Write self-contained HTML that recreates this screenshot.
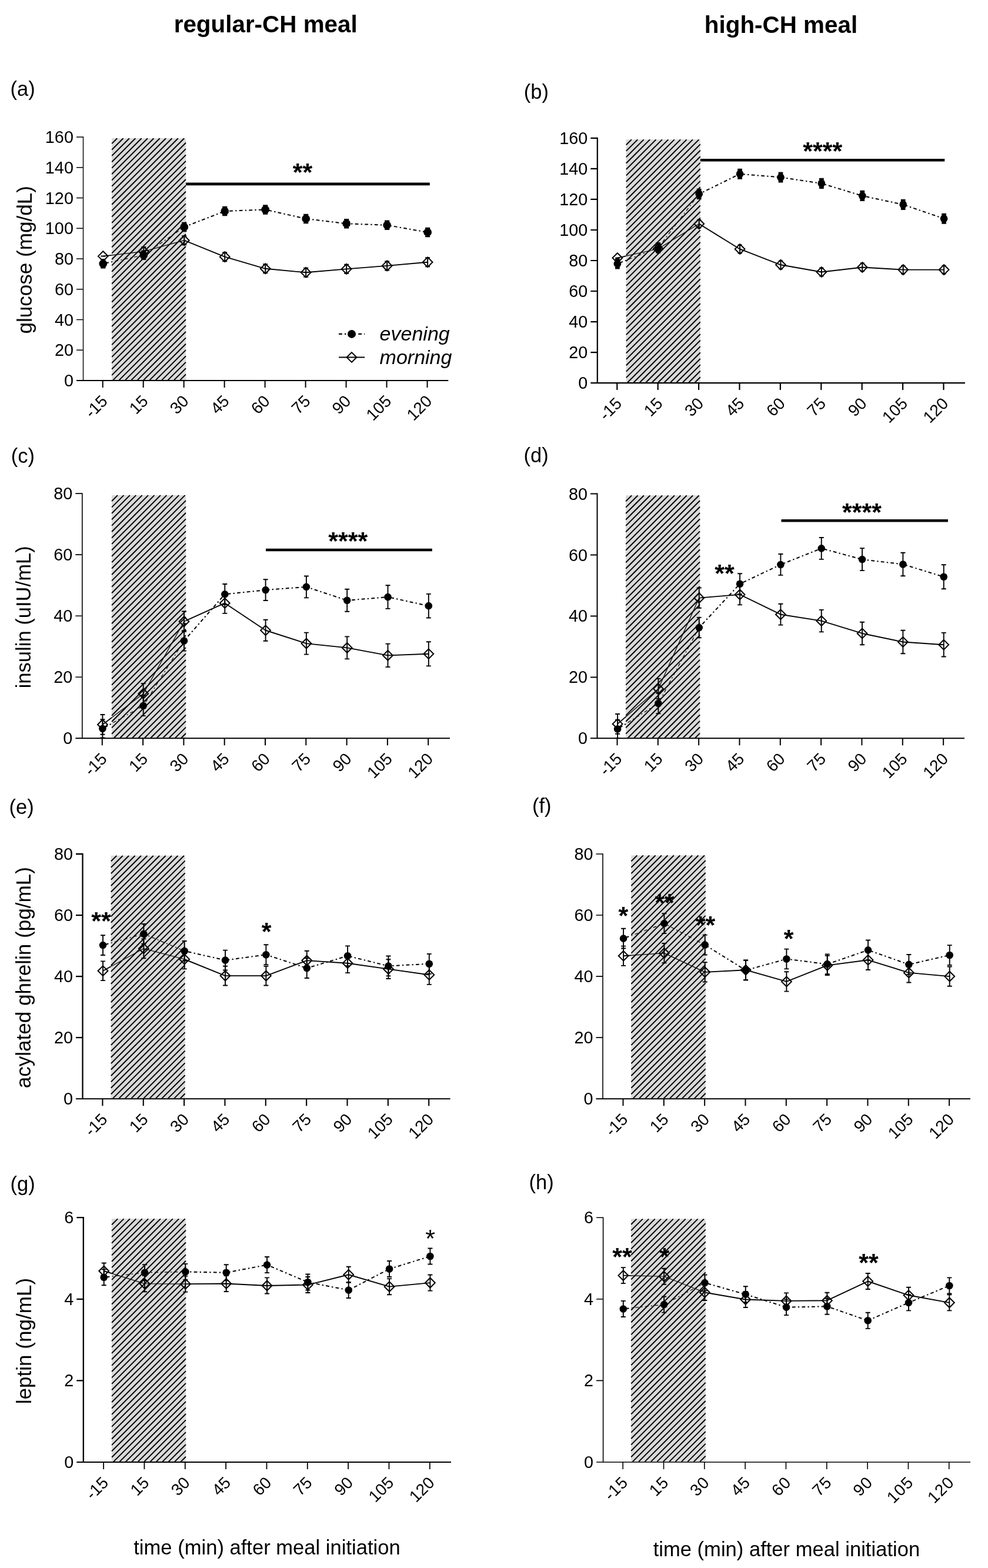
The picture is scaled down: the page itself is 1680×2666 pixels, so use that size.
<!DOCTYPE html>
<html lang="en"><head><meta charset="utf-8"><title>Postprandial responses: regular-CH vs high-CH meal</title>
<style>html,body{margin:0;padding:0;background:#fff}body{width:1680px;height:2666px;overflow:hidden}svg{display:block}text{font-family:'Liberation Sans', Arial, Helvetica, sans-serif;fill:#000}</style>
</head><body>
<svg xmlns="http://www.w3.org/2000/svg" width="1680" height="2666" viewBox="0 0 1680 2666">
<rect width="1680" height="2666" fill="#fff"/>
<text x="451.7" y="55.4" text-anchor="middle" font-size="40.4" font-weight="bold">regular-CH meal</text>
<text x="1328" y="56.2" text-anchor="middle" font-size="40.4" font-weight="bold">high-CH meal</text>
<g id="panel-a">
<text x="17.6" y="162.6" font-size="34.5">(a)</text>
<text transform="translate(53.8 441.8) rotate(-90)" text-anchor="middle" font-size="35.1">glucose (mg/dL)</text>
<rect x="190" y="235" width="126.2" height="411.4" fill="#dadada"/>
<line x1="316.2" y1="312.85" x2="730.8" y2="312.85" stroke="#000" stroke-width="4.6"/>
<text x="514.6" y="306.6" text-anchor="middle" font-size="43" font-weight="bold">**</text>
<clipPath id="in-a"><rect x="190" y="235" width="126.2" height="411.4"/></clipPath>
<clipPath id="out-a"><path clip-rule="evenodd" d="M0 0H1680V2666H0ZM190 235H316.2V646.4H190Z"/></clipPath>
<g clip-path="url(#out-a)">
<polyline points="175.3,435.6 244.28,427.58 313.26,408.69 382.24,436.64 451.22,456.82 520.2,463.29 589.18,457.34 658.16,451.9 727.14,445.69" fill="none" stroke="#000" stroke-width="1.9" stroke-linejoin="round"/>
<polyline points="175.3,448.28 244.28,433.79 313.26,385.92 382.24,359.01 451.22,356.42 520.2,371.95 589.18,380.23 658.16,382.82 727.14,394.98" fill="none" stroke="#000" stroke-width="2.0" stroke-dasharray="5.8 4.2 2.4 4.2" stroke-dashoffset="-4"/>
</g>
<g clip-path="url(#in-a)">
<polyline points="175.3,435.6 244.28,427.58 313.26,408.69 382.24,436.64 451.22,456.82 520.2,463.29 589.18,457.34 658.16,451.9 727.14,445.69" fill="none" stroke="#000" stroke-width="1.2" stroke-linejoin="round"/>
<polyline points="175.3,448.28 244.28,433.79 313.26,385.92 382.24,359.01 451.22,356.42 520.2,371.95 589.18,380.23 658.16,382.82 727.14,394.98" fill="none" stroke="#000" stroke-width="1.2" stroke-dasharray="5.8 4.2 2.4 4.2" stroke-dashoffset="-4"/>
</g>
<path d="M166.9 435.6L175.3 427.2L183.7 435.6L175.3 444ZM235.88 427.58L244.28 419.18L252.68 427.58L244.28 435.98ZM304.86 408.69L313.26 400.29L321.66 408.69L313.26 417.09ZM373.84 436.64L382.24 428.24L390.64 436.64L382.24 445.04ZM442.82 456.82L451.22 448.42L459.62 456.82L451.22 465.22ZM511.8 463.29L520.2 454.89L528.6 463.29L520.2 471.69ZM580.78 457.34L589.18 448.94L597.58 457.34L589.18 465.74ZM649.76 451.9L658.16 443.5L666.56 451.9L658.16 460.3ZM718.74 445.69L727.14 437.29L735.54 445.69L727.14 454.09Z" fill="none" stroke="#000" stroke-width="2" stroke-linejoin="miter"/>
<path d="M175.3 435.6V435.6M171.3 435.6H179.3M171.3 435.6H179.3M244.28 420.08V435.08M240.28 420.08H248.28M240.28 435.08H248.28M313.26 401.19V416.2M309.26 401.19H317.26M309.26 416.2H317.26M382.24 429.13V444.14M378.24 429.13H386.24M378.24 444.14H386.24M451.22 449.31V464.32M447.22 449.31H455.22M447.22 464.32H455.22M520.2 455.78V470.79M516.2 455.78H524.2M516.2 470.79H524.2M589.18 449.83V464.84M585.18 449.83H593.18M585.18 464.84H593.18M658.16 444.4V459.41M654.16 444.4H662.16M654.16 459.41H662.16M727.14 438.19V453.2M723.14 438.19H731.14M723.14 453.2H731.14" fill="none" stroke="#000" stroke-width="2.0"/>
<path d="M175.3 441.29V455.27M171.2 441.29H179.4M171.2 455.27H179.4M244.28 426.8V440.78M240.18 426.8H248.38M240.18 440.78H248.38M313.26 378.94V392.91M309.16 378.94H317.36M309.16 392.91H317.36M382.24 352.03V366M378.14 352.03H386.34M378.14 366H386.34M451.22 349.44V363.41M447.12 349.44H455.32M447.12 363.41H455.32M520.2 364.96V378.94M516.1 364.96H524.3M516.1 378.94H524.3M589.18 373.24V387.22M585.08 373.24H593.28M585.08 387.22H593.28M658.16 375.83V389.8M654.06 375.83H662.26M654.06 389.8H662.26M727.14 387.99V401.96M723.04 387.99H731.24M723.04 401.96H731.24" fill="none" stroke="#000" stroke-width="2.6"/>
<circle cx="175.3" cy="448.28" r="6.9" fill="#000"/>
<circle cx="244.28" cy="433.79" r="6.9" fill="#000"/>
<circle cx="313.26" cy="385.92" r="6.9" fill="#000"/>
<circle cx="382.24" cy="359.01" r="6.9" fill="#000"/>
<circle cx="451.22" cy="356.42" r="6.9" fill="#000"/>
<circle cx="520.2" cy="371.95" r="6.9" fill="#000"/>
<circle cx="589.18" cy="380.23" r="6.9" fill="#000"/>
<circle cx="658.16" cy="382.82" r="6.9" fill="#000"/>
<circle cx="727.14" cy="394.98" r="6.9" fill="#000"/>
<rect x="190" y="235" width="126.2" height="411.4" fill="#000" fill-opacity="0.0"/>
<path d="M190.75 243.65L198.65 235.75M190.75 254.01L209.01 235.75M190.75 264.37L219.37 235.75M190.75 274.74L229.74 235.75M190.75 285.1L240.1 235.75M190.75 295.46L250.46 235.75M190.75 305.82L260.82 235.75M190.75 316.18L271.18 235.75M190.75 326.55L281.55 235.75M190.75 336.91L291.91 235.75M190.75 347.27L302.27 235.75M190.75 357.63L312.63 235.75M190.75 367.99L315.45 243.29M190.75 378.36L315.45 253.66M190.75 388.72L315.45 264.02M190.75 399.08L315.45 274.38M190.75 409.44L315.45 284.74M190.75 419.8L315.45 295.1M190.75 430.17L315.45 305.47M190.75 440.53L315.45 315.83M190.75 450.89L315.45 326.19M190.75 461.25L315.45 336.55M190.75 471.61L315.45 346.91M190.75 481.98L315.45 357.28M190.75 492.34L315.45 367.64M190.75 502.7L315.45 378M190.75 513.06L315.45 388.36M190.75 523.42L315.45 398.72M190.75 533.79L315.45 409.09M190.75 544.15L315.45 419.45M190.75 554.51L315.45 429.81M190.75 564.87L315.45 440.17M190.75 575.23L315.45 450.53M190.75 585.6L315.45 460.9M190.75 595.96L315.45 471.26M190.75 606.32L315.45 481.62M190.75 616.68L315.45 491.98M190.75 627.04L315.45 502.34M190.75 637.41L315.45 512.71M192.87 645.65L315.45 523.07M203.23 645.65L315.45 533.43M213.59 645.65L315.45 543.79M223.95 645.65L315.45 554.15M234.32 645.65L315.45 564.52M244.68 645.65L315.45 574.88M255.04 645.65L315.45 585.24M265.4 645.65L315.45 595.6M275.76 645.65L315.45 605.96M286.13 645.65L315.45 616.33M296.49 645.65L315.45 626.69M306.85 645.65L315.45 637.05" fill="none" stroke="#000" stroke-width="1.95" stroke-linecap="round"/>
<path d="M141.5 232.3V647" stroke="#000" stroke-width="1.4" fill="none"/>
<path d="M130 647H762.3" stroke="#000" stroke-width="2.0" fill="none"/>
<path d="M130 595.25H141.5M130 543.5H141.5M130 491.75H141.5M130 440H141.5M130 388.25H141.5M130 336.5H141.5M130 284.75H141.5M130 233H141.5" stroke="#000" stroke-width="1.4" fill="none"/>
<path d="M174.7 647v12.0M243.68 647v12.0M312.66 647v12.0M381.64 647v12.0M450.62 647v12.0M519.6 647v12.0M588.58 647v12.0M657.56 647v12.0M726.54 647v12.0" stroke="#000" stroke-width="2.0" fill="none"/>
<text transform="translate(124.9 657) scale(0.95 1)" text-anchor="end" font-size="30.3">0</text>
<text transform="translate(124.9 605.25) scale(0.95 1)" text-anchor="end" font-size="30.3">20</text>
<text transform="translate(124.9 553.5) scale(0.95 1)" text-anchor="end" font-size="30.3">40</text>
<text transform="translate(124.9 501.75) scale(0.95 1)" text-anchor="end" font-size="30.3">60</text>
<text transform="translate(124.9 450) scale(0.95 1)" text-anchor="end" font-size="30.3">80</text>
<text transform="translate(124.9 398.25) scale(0.95 1)" text-anchor="end" font-size="30.3">100</text>
<text transform="translate(124.9 346.5) scale(0.95 1)" text-anchor="end" font-size="30.3">120</text>
<text transform="translate(124.9 294.75) scale(0.95 1)" text-anchor="end" font-size="30.3">140</text>
<text transform="translate(124.9 243) scale(0.95 1)" text-anchor="end" font-size="30.3">160</text>
<text transform="translate(184.5 683.7) rotate(-45)" text-anchor="end" font-size="28">-15</text>
<text transform="translate(253.48 683.7) rotate(-45)" text-anchor="end" font-size="28">15</text>
<text transform="translate(322.46 683.7) rotate(-45)" text-anchor="end" font-size="28">30</text>
<text transform="translate(391.44 683.7) rotate(-45)" text-anchor="end" font-size="28">45</text>
<text transform="translate(460.42 683.7) rotate(-45)" text-anchor="end" font-size="28">60</text>
<text transform="translate(529.4 683.7) rotate(-45)" text-anchor="end" font-size="28">75</text>
<text transform="translate(598.38 683.7) rotate(-45)" text-anchor="end" font-size="28">90</text>
<text transform="translate(667.36 683.7) rotate(-45)" text-anchor="end" font-size="28">105</text>
<text transform="translate(736.34 683.7) rotate(-45)" text-anchor="end" font-size="28">120</text>
</g>
<g id="panel-b">
<text x="890.8" y="168.2" font-size="34.5">(b)</text>
<rect x="1064.6" y="237.1" width="126.4" height="413.4" fill="#dadada"/>
<line x1="1191" y1="272.2" x2="1606.3" y2="272.2" stroke="#000" stroke-width="4.6"/>
<text x="1398.8" y="271" text-anchor="middle" font-size="43" font-weight="bold">****</text>
<clipPath id="in-b"><rect x="1064.6" y="237.1" width="126.4" height="413.4"/></clipPath>
<clipPath id="out-b"><path clip-rule="evenodd" d="M0 0H1680V2666H0ZM1064.6 237.1H1191V650.5H1064.6Z"/></clipPath>
<g clip-path="url(#out-b)">
<polyline points="1049.9,438.58 1119.3,422.97 1188.7,380.57 1258.1,423.49 1327.5,450.28 1396.9,462.51 1466.3,454.45 1535.7,458.61 1605.1,458.61" fill="none" stroke="#000" stroke-width="1.9" stroke-linejoin="round"/>
<polyline points="1049.9,448.46 1119.3,421.15 1188.7,329.85 1258.1,295.77 1327.5,301.49 1396.9,311.9 1466.3,332.97 1535.7,347.79 1605.1,371.73" fill="none" stroke="#000" stroke-width="2.0" stroke-dasharray="5.8 4.2 2.4 4.2" stroke-dashoffset="-4"/>
</g>
<g clip-path="url(#in-b)">
<polyline points="1049.9,438.58 1119.3,422.97 1188.7,380.57 1258.1,423.49 1327.5,450.28 1396.9,462.51 1466.3,454.45 1535.7,458.61 1605.1,458.61" fill="none" stroke="#000" stroke-width="1.2" stroke-linejoin="round"/>
<polyline points="1049.9,448.46 1119.3,421.15 1188.7,329.85 1258.1,295.77 1327.5,301.49 1396.9,311.9 1466.3,332.97 1535.7,347.79 1605.1,371.73" fill="none" stroke="#000" stroke-width="1.2" stroke-dasharray="5.8 4.2 2.4 4.2" stroke-dashoffset="-4"/>
</g>
<path d="M1041.5 438.58L1049.9 430.18L1058.3 438.58L1049.9 446.98ZM1110.9 422.97L1119.3 414.57L1127.7 422.97L1119.3 431.37ZM1180.3 380.57L1188.7 372.17L1197.1 380.57L1188.7 388.97ZM1249.7 423.49L1258.1 415.09L1266.5 423.49L1258.1 431.89ZM1319.1 450.28L1327.5 441.88L1335.9 450.28L1327.5 458.68ZM1388.5 462.51L1396.9 454.11L1405.3 462.51L1396.9 470.91ZM1457.9 454.45L1466.3 446.05L1474.7 454.45L1466.3 462.85ZM1527.3 458.61L1535.7 450.21L1544.1 458.61L1535.7 467.01ZM1596.7 458.61L1605.1 450.21L1613.5 458.61L1605.1 467.01Z" fill="none" stroke="#000" stroke-width="2" stroke-linejoin="miter"/>
<path d="M1049.9 438.58V438.58M1046.4 438.58H1053.4M1046.4 438.58H1053.4M1119.3 416.08V429.86M1115.8 416.08H1122.8M1115.8 429.86H1122.8M1188.7 373.68V387.46M1185.2 373.68H1192.2M1185.2 387.46H1192.2M1258.1 416.6V430.38M1254.6 416.6H1261.6M1254.6 430.38H1261.6M1327.5 443.39V457.18M1324 443.39H1331M1324 457.18H1331M1396.9 455.62V469.4M1393.4 455.62H1400.4M1393.4 469.4H1400.4M1466.3 447.55V461.34M1462.8 447.55H1469.8M1462.8 461.34H1469.8M1535.7 451.71V465.5M1532.2 451.71H1539.2M1532.2 465.5H1539.2M1605.1 451.71V465.5M1601.6 451.71H1608.6M1601.6 465.5H1608.6" fill="none" stroke="#000" stroke-width="2.0"/>
<path d="M1046.05 439.36h7.7v18.2h-7.7zM1115.45 412.05h7.7v18.2h-7.7zM1184.85 320.75h7.7v18.2h-7.7zM1254.25 286.67h7.7v18.2h-7.7zM1323.65 292.39h7.7v18.2h-7.7zM1393.05 302.8h7.7v18.2h-7.7zM1462.45 323.87h7.7v18.2h-7.7zM1531.85 338.69h7.7v18.2h-7.7zM1601.25 362.63h7.7v18.2h-7.7z" fill="#000"/>
<circle cx="1049.9" cy="448.46" r="6.4" fill="#000"/>
<circle cx="1119.3" cy="421.15" r="6.4" fill="#000"/>
<circle cx="1188.7" cy="329.85" r="6.4" fill="#000"/>
<circle cx="1258.1" cy="295.77" r="6.4" fill="#000"/>
<circle cx="1327.5" cy="301.49" r="6.4" fill="#000"/>
<circle cx="1396.9" cy="311.9" r="6.4" fill="#000"/>
<circle cx="1466.3" cy="332.97" r="6.4" fill="#000"/>
<circle cx="1535.7" cy="347.79" r="6.4" fill="#000"/>
<circle cx="1605.1" cy="371.73" r="6.4" fill="#000"/>
<rect x="1064.6" y="237.1" width="126.4" height="413.4" fill="#000" fill-opacity="0.0"/>
<path d="M1065.35 245.75L1073.25 237.85M1065.35 256.17L1083.67 237.85M1065.35 266.58L1094.08 237.85M1065.35 277L1104.5 237.85M1065.35 287.42L1114.92 237.85M1065.35 297.84L1125.34 237.85M1065.35 308.25L1135.75 237.85M1065.35 318.67L1146.17 237.85M1065.35 329.09L1156.59 237.85M1065.35 339.5L1167 237.85M1065.35 349.92L1177.42 237.85M1065.35 360.34L1187.84 237.85M1065.35 370.75L1190.25 245.85M1065.35 381.17L1190.25 256.27M1065.35 391.59L1190.25 266.69M1065.35 402.01L1190.25 277.11M1065.35 412.42L1190.25 287.52M1065.35 422.84L1190.25 297.94M1065.35 433.26L1190.25 308.36M1065.35 443.67L1190.25 318.77M1065.35 454.09L1190.25 329.19M1065.35 464.51L1190.25 339.61M1065.35 474.93L1190.25 350.03M1065.35 485.34L1190.25 360.44M1065.35 495.76L1190.25 370.86M1065.35 506.18L1190.25 381.28M1065.35 516.59L1190.25 391.69M1065.35 527.01L1190.25 402.11M1065.35 537.43L1190.25 412.53M1065.35 547.84L1190.25 422.94M1065.35 558.26L1190.25 433.36M1065.35 568.68L1190.25 443.78M1065.35 579.1L1190.25 454.2M1065.35 589.51L1190.25 464.61M1065.35 599.93L1190.25 475.03M1065.35 610.35L1190.25 485.45M1065.35 620.76L1190.25 495.86M1065.35 631.18L1190.25 506.28M1065.35 641.6L1190.25 516.7M1067.62 649.75L1190.25 527.12M1078.03 649.75L1190.25 537.53M1088.45 649.75L1190.25 547.95M1098.87 649.75L1190.25 558.37M1109.28 649.75L1190.25 568.78M1119.7 649.75L1190.25 579.2M1130.12 649.75L1190.25 589.62M1140.53 649.75L1190.25 600.03M1150.95 649.75L1190.25 610.45M1161.37 649.75L1190.25 620.87M1171.79 649.75L1190.25 631.29M1182.2 649.75L1190.25 641.7" fill="none" stroke="#000" stroke-width="1.95" stroke-linecap="round"/>
<path d="M1015.8 233.8V651.1" stroke="#000" stroke-width="2.2" fill="none"/>
<path d="M1004.3 651.1H1641" stroke="#000" stroke-width="2.2" fill="none"/>
<path d="M1004.3 599.08H1015.8M1004.3 547.05H1015.8M1004.3 495.02H1015.8M1004.3 443H1015.8M1004.3 390.98H1015.8M1004.3 338.95H1015.8M1004.3 286.92H1015.8M1004.3 234.9H1015.8" stroke="#000" stroke-width="2.2" fill="none"/>
<path d="M1049.3 651.1v12.0M1118.7 651.1v12.0M1188.1 651.1v12.0M1257.5 651.1v12.0M1326.9 651.1v12.0M1396.3 651.1v12.0M1465.7 651.1v12.0M1535.1 651.1v12.0M1604.5 651.1v12.0" stroke="#000" stroke-width="2.2" fill="none"/>
<text transform="translate(999.2 661.1) scale(0.95 1)" text-anchor="end" font-size="30.3">0</text>
<text transform="translate(999.2 609.08) scale(0.95 1)" text-anchor="end" font-size="30.3">20</text>
<text transform="translate(999.2 557.05) scale(0.95 1)" text-anchor="end" font-size="30.3">40</text>
<text transform="translate(999.2 505.02) scale(0.95 1)" text-anchor="end" font-size="30.3">60</text>
<text transform="translate(999.2 453) scale(0.95 1)" text-anchor="end" font-size="30.3">80</text>
<text transform="translate(999.2 400.98) scale(0.95 1)" text-anchor="end" font-size="30.3">100</text>
<text transform="translate(999.2 348.95) scale(0.95 1)" text-anchor="end" font-size="30.3">120</text>
<text transform="translate(999.2 296.92) scale(0.95 1)" text-anchor="end" font-size="30.3">140</text>
<text transform="translate(999.2 244.9) scale(0.95 1)" text-anchor="end" font-size="30.3">160</text>
<text transform="translate(1059.1 687.8) rotate(-45)" text-anchor="end" font-size="28">-15</text>
<text transform="translate(1128.5 687.8) rotate(-45)" text-anchor="end" font-size="28">15</text>
<text transform="translate(1197.9 687.8) rotate(-45)" text-anchor="end" font-size="28">30</text>
<text transform="translate(1267.3 687.8) rotate(-45)" text-anchor="end" font-size="28">45</text>
<text transform="translate(1336.7 687.8) rotate(-45)" text-anchor="end" font-size="28">60</text>
<text transform="translate(1406.1 687.8) rotate(-45)" text-anchor="end" font-size="28">75</text>
<text transform="translate(1475.5 687.8) rotate(-45)" text-anchor="end" font-size="28">90</text>
<text transform="translate(1544.9 687.8) rotate(-45)" text-anchor="end" font-size="28">105</text>
<text transform="translate(1614.3 687.8) rotate(-45)" text-anchor="end" font-size="28">120</text>
</g>
<g id="panel-c">
<text x="18.7" y="787.2" font-size="34.5">(c)</text>
<text transform="translate(51.6 1049.3) rotate(-90)" text-anchor="middle" font-size="34.6">insulin (uIU/mL)</text>
<rect x="189.9" y="841.9" width="126.3" height="412.8" fill="#dadada"/>
<line x1="452" y1="935" x2="734.8" y2="935" stroke="#000" stroke-width="4.6"/>
<text x="591.8" y="933.7" text-anchor="middle" font-size="43" font-weight="bold">****</text>
<clipPath id="in-c"><rect x="189.9" y="841.9" width="126.3" height="412.8"/></clipPath>
<clipPath id="out-c"><path clip-rule="evenodd" d="M0 0H1680V2666H0ZM189.9 841.9H316.2V1254.7H189.9Z"/></clipPath>
<g clip-path="url(#out-c)">
<polyline points="174.4,1231.92 243.7,1179.4 313,1056.68 382.3,1025.48 451.6,1071.76 520.9,1094.12 590.2,1101.4 659.5,1114.4 728.8,1111.8" fill="none" stroke="#000" stroke-width="1.9" stroke-linejoin="round"/>
<polyline points="174.4,1238.89 243.7,1199.94 313,1089.44 382.3,1010.4 451.6,1003.12 520.9,997.92 590.2,1020.8 659.5,1015.08 728.8,1030.16" fill="none" stroke="#000" stroke-width="2.0" stroke-dasharray="5.8 4.2 2.4 4.2" stroke-dashoffset="-4"/>
</g>
<g clip-path="url(#in-c)">
<polyline points="174.4,1231.92 243.7,1179.4 313,1056.68 382.3,1025.48 451.6,1071.76 520.9,1094.12 590.2,1101.4 659.5,1114.4 728.8,1111.8" fill="none" stroke="#000" stroke-width="1.2" stroke-linejoin="round"/>
<polyline points="174.4,1238.89 243.7,1199.94 313,1089.44 382.3,1010.4 451.6,1003.12 520.9,997.92 590.2,1020.8 659.5,1015.08 728.8,1030.16" fill="none" stroke="#000" stroke-width="1.2" stroke-dasharray="5.8 4.2 2.4 4.2" stroke-dashoffset="-4"/>
</g>
<path d="M166 1231.92L174.4 1223.52L182.8 1231.92L174.4 1240.32ZM235.3 1179.4L243.7 1171L252.1 1179.4L243.7 1187.8ZM304.6 1056.68L313 1048.28L321.4 1056.68L313 1065.08ZM373.9 1025.48L382.3 1017.08L390.7 1025.48L382.3 1033.88ZM443.2 1071.76L451.6 1063.36L460 1071.76L451.6 1080.16ZM512.5 1094.12L520.9 1085.72L529.3 1094.12L520.9 1102.52ZM581.8 1101.4L590.2 1093L598.6 1101.4L590.2 1109.8ZM651.1 1114.4L659.5 1106L667.9 1114.4L659.5 1122.8ZM720.4 1111.8L728.8 1103.4L737.2 1111.8L728.8 1120.2Z" fill="none" stroke="#000" stroke-width="2" stroke-linejoin="miter"/>
<path d="M174.4 1215.02V1248.82M170.4 1215.02H178.4M170.4 1248.82H178.4M243.7 1162.24V1196.56M239.7 1162.24H247.7M239.7 1196.56H247.7M313 1039.52V1073.84M309 1039.52H317M309 1073.84H317M382.3 1008.06V1042.9M378.3 1008.06H386.3M378.3 1042.9H386.3M451.6 1053.82V1089.7M447.6 1053.82H455.6M447.6 1089.7H455.6M520.9 1075.66V1112.58M516.9 1075.66H524.9M516.9 1112.58H524.9M590.2 1082.42V1120.38M586.2 1082.42H594.2M586.2 1120.38H594.2M659.5 1094.64V1134.16M655.5 1094.64H663.5M655.5 1134.16H663.5M728.8 1091.26V1132.34M724.8 1091.26H732.8M724.8 1132.34H732.8" fill="none" stroke="#000" stroke-width="1.9"/>
<path d="M174.4 1223.29V1254.49M170.4 1223.29H178.4M170.4 1254.49H178.4M243.7 1182.78V1217.1M239.7 1182.78H247.7M239.7 1217.1H247.7M313 1072.28V1106.6M309 1072.28H317M309 1106.6H317M382.3 992.98V1027.82M378.3 992.98H386.3M378.3 1027.82H386.3M451.6 985.18V1021.06M447.6 985.18H455.6M447.6 1021.06H455.6M520.9 979.46V1016.38M516.9 979.46H524.9M516.9 1016.38H524.9M590.2 1001.82V1039.78M586.2 1001.82H594.2M586.2 1039.78H594.2M659.5 995.32V1034.84M655.5 995.32H663.5M655.5 1034.84H663.5M728.8 1009.88V1050.44M724.8 1009.88H732.8M724.8 1050.44H732.8" fill="none" stroke="#000" stroke-width="1.9"/>
<circle cx="174.4" cy="1238.89" r="6.3" fill="#000"/>
<circle cx="243.7" cy="1199.94" r="6.3" fill="#000"/>
<circle cx="313" cy="1089.44" r="6.3" fill="#000"/>
<circle cx="382.3" cy="1010.4" r="6.3" fill="#000"/>
<circle cx="451.6" cy="1003.12" r="6.3" fill="#000"/>
<circle cx="520.9" cy="997.92" r="6.3" fill="#000"/>
<circle cx="590.2" cy="1020.8" r="6.3" fill="#000"/>
<circle cx="659.5" cy="1015.08" r="6.3" fill="#000"/>
<circle cx="728.8" cy="1030.16" r="6.3" fill="#000"/>
<rect x="189.9" y="841.9" width="126.3" height="412.8" fill="#000" fill-opacity="0.0"/>
<path d="M190.65 851.45L199.45 842.65M190.65 861.87L209.87 842.65M190.65 872.28L220.28 842.65M190.65 882.7L230.7 842.65M190.65 893.12L241.12 842.65M190.65 903.54L251.54 842.65M190.65 913.95L261.95 842.65M190.65 924.37L272.37 842.65M190.65 934.79L282.79 842.65M190.65 945.2L293.2 842.65M190.65 955.62L303.62 842.65M190.65 966.04L314.04 842.65M190.65 976.45L315.45 851.65M190.65 986.87L315.45 862.07M190.65 997.29L315.45 872.49M190.65 1007.71L315.45 882.91M190.65 1018.12L315.45 893.32M190.65 1028.54L315.45 903.74M190.65 1038.96L315.45 914.16M190.65 1049.37L315.45 924.57M190.65 1059.79L315.45 934.99M190.65 1070.21L315.45 945.41M190.65 1080.63L315.45 955.83M190.65 1091.04L315.45 966.24M190.65 1101.46L315.45 976.66M190.65 1111.88L315.45 987.08M190.65 1122.29L315.45 997.49M190.65 1132.71L315.45 1007.91M190.65 1143.13L315.45 1018.33M190.65 1153.54L315.45 1028.74M190.65 1163.96L315.45 1039.16M190.65 1174.38L315.45 1049.58M190.65 1184.8L315.45 1060M190.65 1195.21L315.45 1070.41M190.65 1205.63L315.45 1080.83M190.65 1216.05L315.45 1091.25M190.65 1226.46L315.45 1101.66M190.65 1236.88L315.45 1112.08M190.65 1247.3L315.45 1122.5M194.42 1253.95L315.45 1132.92M204.83 1253.95L315.45 1143.33M215.25 1253.95L315.45 1153.75M225.67 1253.95L315.45 1164.17M236.08 1253.95L315.45 1174.58M246.5 1253.95L315.45 1185M256.92 1253.95L315.45 1195.42M267.33 1253.95L315.45 1205.83M277.75 1253.95L315.45 1216.25M288.17 1253.95L315.45 1226.67M298.59 1253.95L315.45 1237.09M309 1253.95L315.45 1247.5" fill="none" stroke="#000" stroke-width="1.95" stroke-linecap="round"/>
<path d="M139.8 838.3V1255.3" stroke="#000" stroke-width="1.6" fill="none"/>
<path d="M128.3 1255.3H765" stroke="#000" stroke-width="2.0" fill="none"/>
<path d="M128.3 1151.25H139.8M128.3 1047.2H139.8M128.3 943.15H139.8M128.3 839.1H139.8" stroke="#000" stroke-width="1.6" fill="none"/>
<path d="M173.8 1255.3v12.0M243.1 1255.3v12.0M312.4 1255.3v12.0M381.7 1255.3v12.0M451 1255.3v12.0M520.3 1255.3v12.0M589.6 1255.3v12.0M658.9 1255.3v12.0M728.2 1255.3v12.0" stroke="#000" stroke-width="2.0" fill="none"/>
<text transform="translate(123.2 1265.3) scale(0.95 1)" text-anchor="end" font-size="30.3">0</text>
<text transform="translate(123.2 1161.25) scale(0.95 1)" text-anchor="end" font-size="30.3">20</text>
<text transform="translate(123.2 1057.2) scale(0.95 1)" text-anchor="end" font-size="30.3">40</text>
<text transform="translate(123.2 953.15) scale(0.95 1)" text-anchor="end" font-size="30.3">60</text>
<text transform="translate(123.2 849.1) scale(0.95 1)" text-anchor="end" font-size="30.3">80</text>
<text transform="translate(183.6 1292) rotate(-45)" text-anchor="end" font-size="28">-15</text>
<text transform="translate(252.9 1292) rotate(-45)" text-anchor="end" font-size="28">15</text>
<text transform="translate(322.2 1292) rotate(-45)" text-anchor="end" font-size="28">30</text>
<text transform="translate(391.5 1292) rotate(-45)" text-anchor="end" font-size="28">45</text>
<text transform="translate(460.8 1292) rotate(-45)" text-anchor="end" font-size="28">60</text>
<text transform="translate(530.1 1292) rotate(-45)" text-anchor="end" font-size="28">75</text>
<text transform="translate(599.4 1292) rotate(-45)" text-anchor="end" font-size="28">90</text>
<text transform="translate(668.7 1292) rotate(-45)" text-anchor="end" font-size="28">105</text>
<text transform="translate(738 1292) rotate(-45)" text-anchor="end" font-size="28">120</text>
</g>
<g id="panel-d">
<text x="890.5" y="786" font-size="34.5">(d)</text>
<rect x="1064" y="842.2" width="126.3" height="412.5" fill="#dadada"/>
<text x="1231.9" y="988.5" text-anchor="middle" font-size="43" font-weight="bold">**</text>
<line x1="1328.5" y1="885.3" x2="1611.9" y2="885.3" stroke="#000" stroke-width="4.6"/>
<text x="1465.5" y="884.6" text-anchor="middle" font-size="43" font-weight="bold">****</text>
<clipPath id="in-d"><rect x="1064" y="842.2" width="126.3" height="412.5"/></clipPath>
<clipPath id="out-d"><path clip-rule="evenodd" d="M0 0H1680V2666H0ZM1064 842.2H1190.3V1254.7H1064Z"/></clipPath>
<g clip-path="url(#out-d)">
<polyline points="1050.1,1230.88 1119.43,1171.08 1188.76,1016.64 1258.09,1010.92 1327.42,1044.72 1396.75,1055.64 1466.08,1076.96 1535.41,1091.52 1604.74,1096.2" fill="none" stroke="#000" stroke-width="1.9" stroke-linejoin="round"/>
<polyline points="1050.1,1239.51 1119.43,1196.04 1188.76,1067.08 1258.09,992.72 1327.42,959.96 1396.75,932.4 1466.08,951.12 1535.41,959.44 1604.74,980.76" fill="none" stroke="#000" stroke-width="2.0" stroke-dasharray="5.8 4.2 2.4 4.2" stroke-dashoffset="-4"/>
</g>
<g clip-path="url(#in-d)">
<polyline points="1050.1,1230.88 1119.43,1171.08 1188.76,1016.64 1258.09,1010.92 1327.42,1044.72 1396.75,1055.64 1466.08,1076.96 1535.41,1091.52 1604.74,1096.2" fill="none" stroke="#000" stroke-width="1.2" stroke-linejoin="round"/>
<polyline points="1050.1,1239.51 1119.43,1196.04 1188.76,1067.08 1258.09,992.72 1327.42,959.96 1396.75,932.4 1466.08,951.12 1535.41,959.44 1604.74,980.76" fill="none" stroke="#000" stroke-width="1.2" stroke-dasharray="5.8 4.2 2.4 4.2" stroke-dashoffset="-4"/>
</g>
<path d="M1041.7 1230.88L1050.1 1222.48L1058.5 1230.88L1050.1 1239.28ZM1111.03 1171.08L1119.43 1162.68L1127.83 1171.08L1119.43 1179.48ZM1180.36 1016.64L1188.76 1008.24L1197.16 1016.64L1188.76 1025.04ZM1249.69 1010.92L1258.09 1002.52L1266.49 1010.92L1258.09 1019.32ZM1319.02 1044.72L1327.42 1036.32L1335.82 1044.72L1327.42 1053.12ZM1388.35 1055.64L1396.75 1047.24L1405.15 1055.64L1396.75 1064.04ZM1457.68 1076.96L1466.08 1068.56L1474.48 1076.96L1466.08 1085.36ZM1527.01 1091.52L1535.41 1083.12L1543.81 1091.52L1535.41 1099.92ZM1596.34 1096.2L1604.74 1087.8L1613.14 1096.2L1604.74 1104.6Z" fill="none" stroke="#000" stroke-width="2" stroke-linejoin="miter"/>
<path d="M1050.1 1213.98V1247.78M1046.1 1213.98H1054.1M1046.1 1247.78H1054.1M1119.43 1153.92V1188.24M1115.43 1153.92H1123.43M1115.43 1188.24H1123.43M1188.76 999.48V1033.8M1184.76 999.48H1192.76M1184.76 1033.8H1192.76M1258.09 993.5V1028.34M1254.09 993.5H1262.09M1254.09 1028.34H1262.09M1327.42 1026.78V1062.66M1323.42 1026.78H1331.42M1323.42 1062.66H1331.42M1396.75 1036.92V1074.36M1392.75 1036.92H1400.75M1392.75 1074.36H1400.75M1466.08 1057.72V1096.2M1462.08 1057.72H1470.08M1462.08 1096.2H1470.08M1535.41 1071.76V1111.28M1531.41 1071.76H1539.41M1531.41 1111.28H1539.41M1604.74 1075.92V1116.48M1600.74 1075.92H1608.74M1600.74 1116.48H1608.74" fill="none" stroke="#000" stroke-width="1.9"/>
<path d="M1050.1 1223.91V1255.11M1046.1 1223.91H1054.1M1046.1 1255.11H1054.1M1119.43 1178.88V1213.2M1115.43 1178.88H1123.43M1115.43 1213.2H1123.43M1188.76 1049.92V1084.24M1184.76 1049.92H1192.76M1184.76 1084.24H1192.76M1258.09 975.3V1010.14M1254.09 975.3H1262.09M1254.09 1010.14H1262.09M1327.42 942.02V977.9M1323.42 942.02H1331.42M1323.42 977.9H1331.42M1396.75 913.94V950.86M1392.75 913.94H1400.75M1392.75 950.86H1400.75M1466.08 932.14V970.1M1462.08 932.14H1470.08M1462.08 970.1H1470.08M1535.41 939.68V979.2M1531.41 939.68H1539.41M1531.41 979.2H1539.41M1604.74 960.22V1001.3M1600.74 960.22H1608.74M1600.74 1001.3H1608.74" fill="none" stroke="#000" stroke-width="1.9"/>
<circle cx="1050.1" cy="1239.51" r="6.3" fill="#000"/>
<circle cx="1119.43" cy="1196.04" r="6.3" fill="#000"/>
<circle cx="1188.76" cy="1067.08" r="6.3" fill="#000"/>
<circle cx="1258.09" cy="992.72" r="6.3" fill="#000"/>
<circle cx="1327.42" cy="959.96" r="6.3" fill="#000"/>
<circle cx="1396.75" cy="932.4" r="6.3" fill="#000"/>
<circle cx="1466.08" cy="951.12" r="6.3" fill="#000"/>
<circle cx="1535.41" cy="959.44" r="6.3" fill="#000"/>
<circle cx="1604.74" cy="980.76" r="6.3" fill="#000"/>
<rect x="1064" y="842.2" width="126.3" height="412.5" fill="#000" fill-opacity="0.0"/>
<path d="M1064.75 851.75L1073.55 842.95M1064.75 862.15L1083.95 842.95M1064.75 872.56L1094.36 842.95M1064.75 882.96L1104.76 842.95M1064.75 893.37L1115.17 842.95M1064.75 903.77L1125.57 842.95M1064.75 914.18L1135.98 842.95M1064.75 924.58L1146.38 842.95M1064.75 934.99L1156.79 842.95M1064.75 945.39L1167.19 842.95M1064.75 955.8L1177.6 842.95M1064.75 966.2L1188 842.95M1064.75 976.6L1189.55 851.8M1064.75 987.01L1189.55 862.21M1064.75 997.41L1189.55 872.61M1064.75 1007.82L1189.55 883.02M1064.75 1018.22L1189.55 893.42M1064.75 1028.63L1189.55 903.83M1064.75 1039.03L1189.55 914.23M1064.75 1049.44L1189.55 924.64M1064.75 1059.84L1189.55 935.04M1064.75 1070.25L1189.55 945.45M1064.75 1080.65L1189.55 955.85M1064.75 1091.05L1189.55 966.25M1064.75 1101.46L1189.55 976.66M1064.75 1111.86L1189.55 987.06M1064.75 1122.27L1189.55 997.47M1064.75 1132.67L1189.55 1007.87M1064.75 1143.08L1189.55 1018.28M1064.75 1153.48L1189.55 1028.68M1064.75 1163.89L1189.55 1039.09M1064.75 1174.29L1189.55 1049.49M1064.75 1184.7L1189.55 1059.9M1064.75 1195.1L1189.55 1070.3M1064.75 1205.5L1189.55 1080.7M1064.75 1215.91L1189.55 1091.11M1064.75 1226.31L1189.55 1101.51M1064.75 1236.72L1189.55 1111.92M1064.75 1247.12L1189.55 1122.32M1068.33 1253.95L1189.55 1132.73M1078.73 1253.95L1189.55 1143.13M1089.14 1253.95L1189.55 1153.54M1099.54 1253.95L1189.55 1163.94M1109.95 1253.95L1189.55 1174.35M1120.35 1253.95L1189.55 1184.75M1130.75 1253.95L1189.55 1195.15M1141.16 1253.95L1189.55 1205.56M1151.56 1253.95L1189.55 1215.96M1161.97 1253.95L1189.55 1226.37M1172.37 1253.95L1189.55 1236.77M1182.78 1253.95L1189.55 1247.18" fill="none" stroke="#000" stroke-width="1.95" stroke-linecap="round"/>
<path d="M1015.5 838.6V1255.3" stroke="#000" stroke-width="2.0" fill="none"/>
<path d="M1004 1255.3H1640" stroke="#000" stroke-width="2.0" fill="none"/>
<path d="M1004 1151.38H1015.5M1004 1047.45H1015.5M1004 943.52H1015.5M1004 839.6H1015.5" stroke="#000" stroke-width="2.0" fill="none"/>
<path d="M1049.5 1255.3v12.0M1118.83 1255.3v12.0M1188.16 1255.3v12.0M1257.49 1255.3v12.0M1326.82 1255.3v12.0M1396.15 1255.3v12.0M1465.48 1255.3v12.0M1534.81 1255.3v12.0M1604.14 1255.3v12.0" stroke="#000" stroke-width="2.0" fill="none"/>
<text transform="translate(998.9 1265.3) scale(0.95 1)" text-anchor="end" font-size="30.3">0</text>
<text transform="translate(998.9 1161.38) scale(0.95 1)" text-anchor="end" font-size="30.3">20</text>
<text transform="translate(998.9 1057.45) scale(0.95 1)" text-anchor="end" font-size="30.3">40</text>
<text transform="translate(998.9 953.52) scale(0.95 1)" text-anchor="end" font-size="30.3">60</text>
<text transform="translate(998.9 849.6) scale(0.95 1)" text-anchor="end" font-size="30.3">80</text>
<text transform="translate(1059.3 1292) rotate(-45)" text-anchor="end" font-size="28">-15</text>
<text transform="translate(1128.63 1292) rotate(-45)" text-anchor="end" font-size="28">15</text>
<text transform="translate(1197.96 1292) rotate(-45)" text-anchor="end" font-size="28">30</text>
<text transform="translate(1267.29 1292) rotate(-45)" text-anchor="end" font-size="28">45</text>
<text transform="translate(1336.62 1292) rotate(-45)" text-anchor="end" font-size="28">60</text>
<text transform="translate(1405.95 1292) rotate(-45)" text-anchor="end" font-size="28">75</text>
<text transform="translate(1475.28 1292) rotate(-45)" text-anchor="end" font-size="28">90</text>
<text transform="translate(1544.61 1292) rotate(-45)" text-anchor="end" font-size="28">105</text>
<text transform="translate(1613.94 1292) rotate(-45)" text-anchor="end" font-size="28">120</text>
</g>
<g id="panel-e">
<text x="15.5" y="1384" font-size="34.5">(e)</text>
<text transform="translate(52 1662.2) rotate(-90)" text-anchor="middle" font-size="35.1">acylated ghrelin (pg/mL)</text>
<rect x="188.6" y="1454.7" width="126.2" height="412.9" fill="#dadada"/>
<text x="172" y="1580.3" text-anchor="middle" font-size="43" font-weight="bold">**</text>
<text x="453" y="1597.8" text-anchor="middle" font-size="43" font-weight="bold">*</text>
<clipPath id="in-e"><rect x="188.6" y="1454.7" width="126.2" height="412.9"/></clipPath>
<clipPath id="out-e"><path clip-rule="evenodd" d="M0 0H1680V2666H0ZM188.6 1454.7H314.8V1867.6H188.6Z"/></clipPath>
<g clip-path="url(#out-e)">
<polyline points="175,1650.76 244.35,1612.8 313.7,1631 383.05,1659.08 452.4,1659.08 521.75,1633.08 591.1,1637.76 660.45,1647.64 729.8,1657.52" fill="none" stroke="#000" stroke-width="1.9" stroke-linejoin="round"/>
<polyline points="175,1607.08 244.35,1587.84 313.7,1616.96 383.05,1632.56 452.4,1623.2 521.75,1646.08 591.1,1625.28 660.45,1642.44 729.8,1638.8" fill="none" stroke="#000" stroke-width="2.0" stroke-dasharray="5.8 4.2 2.4 4.2" stroke-dashoffset="-4"/>
</g>
<g clip-path="url(#in-e)">
<polyline points="175,1650.76 244.35,1612.8 313.7,1631 383.05,1659.08 452.4,1659.08 521.75,1633.08 591.1,1637.76 660.45,1647.64 729.8,1657.52" fill="none" stroke="#000" stroke-width="1.2" stroke-linejoin="round"/>
<polyline points="175,1607.08 244.35,1587.84 313.7,1616.96 383.05,1632.56 452.4,1623.2 521.75,1646.08 591.1,1625.28 660.45,1642.44 729.8,1638.8" fill="none" stroke="#000" stroke-width="1.2" stroke-dasharray="5.8 4.2 2.4 4.2" stroke-dashoffset="-4"/>
</g>
<path d="M166.6 1650.76L175 1642.36L183.4 1650.76L175 1659.16ZM235.95 1612.8L244.35 1604.4L252.75 1612.8L244.35 1621.2ZM305.3 1631L313.7 1622.6L322.1 1631L313.7 1639.4ZM374.65 1659.08L383.05 1650.68L391.45 1659.08L383.05 1667.48ZM444 1659.08L452.4 1650.68L460.8 1659.08L452.4 1667.48ZM513.35 1633.08L521.75 1624.68L530.15 1633.08L521.75 1641.48ZM582.7 1637.76L591.1 1629.36L599.5 1637.76L591.1 1646.16ZM652.05 1647.64L660.45 1639.24L668.85 1647.64L660.45 1656.04ZM721.4 1657.52L729.8 1649.12L738.2 1657.52L729.8 1665.92Z" fill="none" stroke="#000" stroke-width="2" stroke-linejoin="miter"/>
<path d="M175 1634.38V1667.14M171 1634.38H179M171 1667.14H179M244.35 1596.42V1629.18M240.35 1596.42H248.35M240.35 1629.18H248.35M313.7 1614.62V1647.38M309.7 1614.62H317.7M309.7 1647.38H317.7M383.05 1642.7V1675.46M379.05 1642.7H387.05M379.05 1675.46H387.05M452.4 1642.7V1675.46M448.4 1642.7H456.4M448.4 1675.46H456.4M521.75 1616.7V1649.46M517.75 1616.7H525.75M517.75 1649.46H525.75M591.1 1621.38V1654.14M587.1 1621.38H595.1M587.1 1654.14H595.1M660.45 1631.26V1664.02M656.45 1631.26H664.45M656.45 1664.02H664.45M729.8 1641.14V1673.9M725.8 1641.14H733.8M725.8 1673.9H733.8" fill="none" stroke="#000" stroke-width="1.9"/>
<path d="M175 1590.18V1623.98M171 1590.18H179M171 1623.98H179M244.35 1570.94V1604.74M240.35 1570.94H248.35M240.35 1604.74H248.35M313.7 1600.06V1633.86M309.7 1600.06H317.7M309.7 1633.86H317.7M383.05 1615.66V1649.46M379.05 1615.66H387.05M379.05 1649.46H387.05M452.4 1606.3V1640.1M448.4 1606.3H456.4M448.4 1640.1H456.4M521.75 1629.18V1662.98M517.75 1629.18H525.75M517.75 1662.98H525.75M591.1 1608.38V1642.18M587.1 1608.38H595.1M587.1 1642.18H595.1M660.45 1625.54V1659.34M656.45 1625.54H664.45M656.45 1659.34H664.45M729.8 1621.9V1655.7M725.8 1621.9H733.8M725.8 1655.7H733.8" fill="none" stroke="#000" stroke-width="1.9"/>
<circle cx="175" cy="1607.08" r="6.3" fill="#000"/>
<circle cx="244.35" cy="1587.84" r="6.3" fill="#000"/>
<circle cx="313.7" cy="1616.96" r="6.3" fill="#000"/>
<circle cx="383.05" cy="1632.56" r="6.3" fill="#000"/>
<circle cx="452.4" cy="1623.2" r="6.3" fill="#000"/>
<circle cx="521.75" cy="1646.08" r="6.3" fill="#000"/>
<circle cx="591.1" cy="1625.28" r="6.3" fill="#000"/>
<circle cx="660.45" cy="1642.44" r="6.3" fill="#000"/>
<circle cx="729.8" cy="1638.8" r="6.3" fill="#000"/>
<rect x="188.6" y="1454.7" width="126.2" height="412.9" fill="#000" fill-opacity="0.0"/>
<path d="M189.35 1463.85L197.75 1455.45M189.35 1474.27L208.17 1455.45M189.35 1484.68L218.58 1455.45M189.35 1495.1L229 1455.45M189.35 1505.52L239.42 1455.45M189.35 1515.94L249.84 1455.45M189.35 1526.35L260.25 1455.45M189.35 1536.77L270.67 1455.45M189.35 1547.19L281.09 1455.45M189.35 1557.6L291.5 1455.45M189.35 1568.02L301.92 1455.45M189.35 1578.44L312.34 1455.45M189.35 1588.85L314.05 1464.15M189.35 1599.27L314.05 1474.57M189.35 1609.69L314.05 1484.99M189.35 1620.11L314.05 1495.41M189.35 1630.52L314.05 1505.82M189.35 1640.94L314.05 1516.24M189.35 1651.36L314.05 1526.66M189.35 1661.77L314.05 1537.07M189.35 1672.19L314.05 1547.49M189.35 1682.61L314.05 1557.91M189.35 1693.03L314.05 1568.33M189.35 1703.44L314.05 1578.74M189.35 1713.86L314.05 1589.16M189.35 1724.28L314.05 1599.58M189.35 1734.69L314.05 1609.99M189.35 1745.11L314.05 1620.41M189.35 1755.53L314.05 1630.83M189.35 1765.94L314.05 1641.24M189.35 1776.36L314.05 1651.66M189.35 1786.78L314.05 1662.08M189.35 1797.2L314.05 1672.5M189.35 1807.61L314.05 1682.91M189.35 1818.03L314.05 1693.33M189.35 1828.45L314.05 1703.75M189.35 1838.86L314.05 1714.16M189.35 1849.28L314.05 1724.58M189.35 1859.7L314.05 1735M192.62 1866.85L314.05 1745.42M203.03 1866.85L314.05 1755.83M213.45 1866.85L314.05 1766.25M223.87 1866.85L314.05 1776.67M234.28 1866.85L314.05 1787.08M244.7 1866.85L314.05 1797.5M255.12 1866.85L314.05 1807.92M265.53 1866.85L314.05 1818.33M275.95 1866.85L314.05 1828.75M286.37 1866.85L314.05 1839.17M296.79 1866.85L314.05 1849.59M307.2 1866.85L314.05 1860" fill="none" stroke="#000" stroke-width="1.95" stroke-linecap="round"/>
<path d="M140.5 1450.85V1868.2" stroke="#000" stroke-width="2.3" fill="none"/>
<path d="M129 1868.2H765.6" stroke="#000" stroke-width="2.1" fill="none"/>
<path d="M129 1764.15H140.5M129 1660.1H140.5M129 1556.05H140.5M129 1452H140.5" stroke="#000" stroke-width="2.3" fill="none"/>
<path d="M174.4 1868.2v12.0M243.75 1868.2v12.0M313.1 1868.2v12.0M382.45 1868.2v12.0M451.8 1868.2v12.0M521.15 1868.2v12.0M590.5 1868.2v12.0M659.85 1868.2v12.0M729.2 1868.2v12.0" stroke="#000" stroke-width="2.1" fill="none"/>
<text transform="translate(123.9 1878.2) scale(0.95 1)" text-anchor="end" font-size="30.3">0</text>
<text transform="translate(123.9 1774.15) scale(0.95 1)" text-anchor="end" font-size="30.3">20</text>
<text transform="translate(123.9 1670.1) scale(0.95 1)" text-anchor="end" font-size="30.3">40</text>
<text transform="translate(123.9 1566.05) scale(0.95 1)" text-anchor="end" font-size="30.3">60</text>
<text transform="translate(123.9 1462) scale(0.95 1)" text-anchor="end" font-size="30.3">80</text>
<text transform="translate(184.2 1904.9) rotate(-45)" text-anchor="end" font-size="28">-15</text>
<text transform="translate(253.55 1904.9) rotate(-45)" text-anchor="end" font-size="28">15</text>
<text transform="translate(322.9 1904.9) rotate(-45)" text-anchor="end" font-size="28">30</text>
<text transform="translate(392.25 1904.9) rotate(-45)" text-anchor="end" font-size="28">45</text>
<text transform="translate(461.6 1904.9) rotate(-45)" text-anchor="end" font-size="28">60</text>
<text transform="translate(530.95 1904.9) rotate(-45)" text-anchor="end" font-size="28">75</text>
<text transform="translate(600.3 1904.9) rotate(-45)" text-anchor="end" font-size="28">90</text>
<text transform="translate(669.65 1904.9) rotate(-45)" text-anchor="end" font-size="28">105</text>
<text transform="translate(739 1904.9) rotate(-45)" text-anchor="end" font-size="28">120</text>
</g>
<g id="panel-f">
<text x="905" y="1382" font-size="34.5">(f)</text>
<rect x="1073.2" y="1454.3" width="126.7" height="413.3" fill="#dadada"/>
<text x="1059.8" y="1570.6" text-anchor="middle" font-size="43" font-weight="bold">*</text>
<text x="1129.9" y="1548.8" text-anchor="middle" font-size="43" font-weight="bold">**</text>
<text x="1199.5" y="1586.9" text-anchor="middle" font-size="43" font-weight="bold">**</text>
<text x="1341" y="1609.7" text-anchor="middle" font-size="43" font-weight="bold">*</text>
<clipPath id="in-f"><rect x="1073.2" y="1454.3" width="126.7" height="413.3"/></clipPath>
<clipPath id="out-f"><path clip-rule="evenodd" d="M0 0H1680V2666H0ZM1073.2 1454.3H1199.9V1867.6H1073.2Z"/></clipPath>
<g clip-path="url(#out-f)">
<polyline points="1060.1,1625.28 1129.43,1620.6 1198.76,1652.84 1268.09,1649.2 1337.42,1668.96 1406.75,1641.4 1476.08,1632.3 1545.41,1653.88 1614.74,1660.12" fill="none" stroke="#000" stroke-width="1.9" stroke-linejoin="round"/>
<polyline points="1060.1,1595.64 1129.43,1570.16 1198.76,1606.56 1268.09,1649.72 1337.42,1630.48 1406.75,1639.32 1476.08,1615.4 1545.41,1639.84 1614.74,1623.98" fill="none" stroke="#000" stroke-width="2.0" stroke-dasharray="5.8 4.2 2.4 4.2" stroke-dashoffset="-4"/>
</g>
<g clip-path="url(#in-f)">
<polyline points="1060.1,1625.28 1129.43,1620.6 1198.76,1652.84 1268.09,1649.2 1337.42,1668.96 1406.75,1641.4 1476.08,1632.3 1545.41,1653.88 1614.74,1660.12" fill="none" stroke="#000" stroke-width="1.2" stroke-linejoin="round"/>
<polyline points="1060.1,1595.64 1129.43,1570.16 1198.76,1606.56 1268.09,1649.72 1337.42,1630.48 1406.75,1639.32 1476.08,1615.4 1545.41,1639.84 1614.74,1623.98" fill="none" stroke="#000" stroke-width="1.2" stroke-dasharray="5.8 4.2 2.4 4.2" stroke-dashoffset="-4"/>
</g>
<path d="M1051.7 1625.28L1060.1 1616.88L1068.5 1625.28L1060.1 1633.68ZM1121.03 1620.6L1129.43 1612.2L1137.83 1620.6L1129.43 1629ZM1190.36 1652.84L1198.76 1644.44L1207.16 1652.84L1198.76 1661.24ZM1259.69 1649.2L1268.09 1640.8L1276.49 1649.2L1268.09 1657.6ZM1329.02 1668.96L1337.42 1660.56L1345.82 1668.96L1337.42 1677.36ZM1398.35 1641.4L1406.75 1633L1415.15 1641.4L1406.75 1649.8ZM1467.68 1632.3L1476.08 1623.9L1484.48 1632.3L1476.08 1640.7ZM1537.01 1653.88L1545.41 1645.48L1553.81 1653.88L1545.41 1662.28ZM1606.34 1660.12L1614.74 1651.72L1623.14 1660.12L1614.74 1668.52Z" fill="none" stroke="#000" stroke-width="2" stroke-linejoin="miter"/>
<path d="M1060.1 1608.64V1641.92M1056.1 1608.64H1064.1M1056.1 1641.92H1064.1M1129.43 1603.96V1637.24M1125.43 1603.96H1133.43M1125.43 1637.24H1133.43M1198.76 1636.2V1669.48M1194.76 1636.2H1202.76M1194.76 1669.48H1202.76M1268.09 1632.56V1665.84M1264.09 1632.56H1272.09M1264.09 1665.84H1272.09M1337.42 1652.32V1685.6M1333.42 1652.32H1341.42M1333.42 1685.6H1341.42M1406.75 1624.76V1658.04M1402.75 1624.76H1410.75M1402.75 1658.04H1410.75M1476.08 1615.66V1648.94M1472.08 1615.66H1480.08M1472.08 1648.94H1480.08M1545.41 1637.24V1670.52M1541.41 1637.24H1549.41M1541.41 1670.52H1549.41M1614.74 1643.48V1676.76M1610.74 1643.48H1618.74M1610.74 1676.76H1618.74" fill="none" stroke="#000" stroke-width="1.9"/>
<path d="M1060.1 1578.74V1612.54M1056.1 1578.74H1064.1M1056.1 1612.54H1064.1M1129.43 1553.26V1587.06M1125.43 1553.26H1133.43M1125.43 1587.06H1133.43M1198.76 1589.66V1623.46M1194.76 1589.66H1202.76M1194.76 1623.46H1202.76M1268.09 1632.82V1666.62M1264.09 1632.82H1272.09M1264.09 1666.62H1272.09M1337.42 1613.58V1647.38M1333.42 1613.58H1341.42M1333.42 1647.38H1341.42M1406.75 1622.42V1656.22M1402.75 1622.42H1410.75M1402.75 1656.22H1410.75M1476.08 1598.5V1632.3M1472.08 1598.5H1480.08M1472.08 1632.3H1480.08M1545.41 1622.94V1656.74M1541.41 1622.94H1549.41M1541.41 1656.74H1549.41M1614.74 1607.08V1640.88M1610.74 1607.08H1618.74M1610.74 1640.88H1618.74" fill="none" stroke="#000" stroke-width="1.9"/>
<circle cx="1060.1" cy="1595.64" r="6.3" fill="#000"/>
<circle cx="1129.43" cy="1570.16" r="6.3" fill="#000"/>
<circle cx="1198.76" cy="1606.56" r="6.3" fill="#000"/>
<circle cx="1268.09" cy="1649.72" r="6.3" fill="#000"/>
<circle cx="1337.42" cy="1630.48" r="6.3" fill="#000"/>
<circle cx="1406.75" cy="1639.32" r="6.3" fill="#000"/>
<circle cx="1476.08" cy="1615.4" r="6.3" fill="#000"/>
<circle cx="1545.41" cy="1639.84" r="6.3" fill="#000"/>
<circle cx="1614.74" cy="1623.98" r="6.3" fill="#000"/>
<rect x="1073.2" y="1454.3" width="126.7" height="413.3" fill="#000" fill-opacity="0.0"/>
<path d="M1073.95 1463.85L1082.75 1455.05M1073.95 1474.27L1093.17 1455.05M1073.95 1484.68L1103.58 1455.05M1073.95 1495.1L1114 1455.05M1073.95 1505.52L1124.42 1455.05M1073.95 1515.94L1134.84 1455.05M1073.95 1526.35L1145.25 1455.05M1073.95 1536.77L1155.67 1455.05M1073.95 1547.19L1166.09 1455.05M1073.95 1557.6L1176.5 1455.05M1073.95 1568.02L1186.92 1455.05M1073.95 1578.44L1197.34 1455.05M1073.95 1588.85L1199.15 1463.65M1073.95 1599.27L1199.15 1474.07M1073.95 1609.69L1199.15 1484.49M1073.95 1620.11L1199.15 1494.91M1073.95 1630.52L1199.15 1505.32M1073.95 1640.94L1199.15 1515.74M1073.95 1651.36L1199.15 1526.16M1073.95 1661.77L1199.15 1536.57M1073.95 1672.19L1199.15 1546.99M1073.95 1682.61L1199.15 1557.41M1073.95 1693.03L1199.15 1567.83M1073.95 1703.44L1199.15 1578.24M1073.95 1713.86L1199.15 1588.66M1073.95 1724.28L1199.15 1599.08M1073.95 1734.69L1199.15 1609.49M1073.95 1745.11L1199.15 1619.91M1073.95 1755.53L1199.15 1630.33M1073.95 1765.94L1199.15 1640.74M1073.95 1776.36L1199.15 1651.16M1073.95 1786.78L1199.15 1661.58M1073.95 1797.2L1199.15 1672M1073.95 1807.61L1199.15 1682.41M1073.95 1818.03L1199.15 1692.83M1073.95 1828.45L1199.15 1703.25M1073.95 1838.86L1199.15 1713.66M1073.95 1849.28L1199.15 1724.08M1073.95 1859.7L1199.15 1734.5M1077.22 1866.85L1199.15 1744.92M1087.63 1866.85L1199.15 1755.33M1098.05 1866.85L1199.15 1765.75M1108.47 1866.85L1199.15 1776.17M1118.88 1866.85L1199.15 1786.58M1129.3 1866.85L1199.15 1797M1139.72 1866.85L1199.15 1807.42M1150.13 1866.85L1199.15 1817.83M1160.55 1866.85L1199.15 1828.25M1170.97 1866.85L1199.15 1838.67M1181.39 1866.85L1199.15 1849.09M1191.8 1866.85L1199.15 1859.5" fill="none" stroke="#000" stroke-width="1.95" stroke-linecap="round"/>
<path d="M1025 1451.2V1868.2" stroke="#000" stroke-width="1.6" fill="none"/>
<path d="M1013.5 1868.2H1650" stroke="#000" stroke-width="2.0" fill="none"/>
<path d="M1013.5 1764.15H1025M1013.5 1660.1H1025M1013.5 1556.05H1025M1013.5 1452H1025" stroke="#000" stroke-width="1.6" fill="none"/>
<path d="M1059.5 1868.2v12.0M1128.83 1868.2v12.0M1198.16 1868.2v12.0M1267.49 1868.2v12.0M1336.82 1868.2v12.0M1406.15 1868.2v12.0M1475.48 1868.2v12.0M1544.81 1868.2v12.0M1614.14 1868.2v12.0" stroke="#000" stroke-width="2.0" fill="none"/>
<text transform="translate(1008.4 1878.2) scale(0.95 1)" text-anchor="end" font-size="30.3">0</text>
<text transform="translate(1008.4 1774.15) scale(0.95 1)" text-anchor="end" font-size="30.3">20</text>
<text transform="translate(1008.4 1670.1) scale(0.95 1)" text-anchor="end" font-size="30.3">40</text>
<text transform="translate(1008.4 1566.05) scale(0.95 1)" text-anchor="end" font-size="30.3">60</text>
<text transform="translate(1008.4 1462) scale(0.95 1)" text-anchor="end" font-size="30.3">80</text>
<text transform="translate(1069.3 1904.9) rotate(-45)" text-anchor="end" font-size="28">-15</text>
<text transform="translate(1138.63 1904.9) rotate(-45)" text-anchor="end" font-size="28">15</text>
<text transform="translate(1207.96 1904.9) rotate(-45)" text-anchor="end" font-size="28">30</text>
<text transform="translate(1277.29 1904.9) rotate(-45)" text-anchor="end" font-size="28">45</text>
<text transform="translate(1346.62 1904.9) rotate(-45)" text-anchor="end" font-size="28">60</text>
<text transform="translate(1415.95 1904.9) rotate(-45)" text-anchor="end" font-size="28">75</text>
<text transform="translate(1485.28 1904.9) rotate(-45)" text-anchor="end" font-size="28">90</text>
<text transform="translate(1554.61 1904.9) rotate(-45)" text-anchor="end" font-size="28">105</text>
<text transform="translate(1623.94 1904.9) rotate(-45)" text-anchor="end" font-size="28">120</text>
</g>
<g id="panel-g">
<text x="17.5" y="2024.8" font-size="34.5">(g)</text>
<text transform="translate(53 2280) rotate(-90)" text-anchor="middle" font-size="35.1">leptin (ng/mL)</text>
<rect x="189.9" y="2072.1" width="126.3" height="413.3" fill="#dadada"/>
<text x="731.5" y="2120.1" text-anchor="middle" font-size="43" font-weight="normal">*</text>
<clipPath id="in-g"><rect x="189.9" y="2072.1" width="126.3" height="413.3"/></clipPath>
<clipPath id="out-g"><path clip-rule="evenodd" d="M0 0H1680V2666H0ZM189.9 2072.1H316.2V2485.4H189.9Z"/></clipPath>
<g clip-path="url(#out-g)">
<polyline points="176.7,2160.98 246.04,2182.67 315.38,2183.16 384.72,2182.47 454.06,2185.93 523.4,2184.55 592.74,2167.22 662.08,2187.66 731.42,2181.08" fill="none" stroke="#000" stroke-width="1.9" stroke-linejoin="round"/>
<polyline points="176.7,2171.79 246.04,2163.76 315.38,2162.37 384.72,2163.76 454.06,2150.59 523.4,2180.04 592.74,2193.55 662.08,2157.52 731.42,2136.03" fill="none" stroke="#000" stroke-width="2.0" stroke-dasharray="5.8 4.2 2.4 4.2" stroke-dashoffset="-4"/>
</g>
<g clip-path="url(#in-g)">
<polyline points="176.7,2160.98 246.04,2182.67 315.38,2183.16 384.72,2182.47 454.06,2185.93 523.4,2184.55 592.74,2167.22 662.08,2187.66 731.42,2181.08" fill="none" stroke="#000" stroke-width="1.2" stroke-linejoin="round"/>
<polyline points="176.7,2171.79 246.04,2163.76 315.38,2162.37 384.72,2163.76 454.06,2150.59 523.4,2180.04 592.74,2193.55 662.08,2157.52 731.42,2136.03" fill="none" stroke="#000" stroke-width="1.2" stroke-dasharray="5.8 4.2 2.4 4.2" stroke-dashoffset="-4"/>
</g>
<path d="M168.3 2160.98L176.7 2152.58L185.1 2160.98L176.7 2169.38ZM237.64 2182.67L246.04 2174.27L254.44 2182.67L246.04 2191.07ZM306.98 2183.16L315.38 2174.76L323.78 2183.16L315.38 2191.56ZM376.32 2182.47L384.72 2174.07L393.12 2182.47L384.72 2190.87ZM445.66 2185.93L454.06 2177.53L462.46 2185.93L454.06 2194.33ZM515 2184.55L523.4 2176.14L531.8 2184.55L523.4 2192.95ZM584.34 2167.22L592.74 2158.82L601.14 2167.22L592.74 2175.62ZM653.68 2187.66L662.08 2179.26L670.48 2187.66L662.08 2196.06ZM723.02 2181.08L731.42 2172.68L739.82 2181.08L731.42 2189.48Z" fill="none" stroke="#000" stroke-width="2" stroke-linejoin="miter"/>
<path d="M176.7 2147.47V2174.5M172.7 2147.47H180.7M172.7 2174.5H180.7M246.04 2169.16V2196.19M242.04 2169.16H250.04M242.04 2196.19H250.04M315.38 2169.65V2196.67M311.38 2169.65H319.38M311.38 2196.67H319.38M384.72 2168.95V2195.98M380.72 2168.95H388.72M380.72 2195.98H388.72M454.06 2172.42V2199.44M450.06 2172.42H458.06M450.06 2199.44H458.06M523.4 2171.03V2198.06M519.4 2171.03H527.4M519.4 2198.06H527.4M592.74 2153.71V2180.73M588.74 2153.71H596.74M588.74 2180.73H596.74M662.08 2174.15V2201.18M658.08 2174.15H666.08M658.08 2201.18H666.08M731.42 2167.57V2194.59M727.42 2167.57H735.42M727.42 2194.59H735.42" fill="none" stroke="#000" stroke-width="1.9"/>
<path d="M176.7 2158.28V2185.31M172.7 2158.28H180.7M172.7 2185.31H180.7M246.04 2150.24V2177.27M242.04 2150.24H250.04M242.04 2177.27H250.04M315.38 2148.86V2175.88M311.38 2148.86H319.38M311.38 2175.88H319.38M384.72 2150.24V2177.27M380.72 2150.24H388.72M380.72 2177.27H388.72M454.06 2137.07V2164.1M450.06 2137.07H458.06M450.06 2164.1H458.06M523.4 2166.53V2193.55M519.4 2166.53H527.4M519.4 2193.55H527.4M592.74 2180.04V2207.07M588.74 2180.04H596.74M588.74 2207.07H596.74M662.08 2144V2171.03M658.08 2144H666.08M658.08 2171.03H666.08M731.42 2122.52V2149.55M727.42 2122.52H735.42M727.42 2149.55H735.42" fill="none" stroke="#000" stroke-width="1.9"/>
<circle cx="176.7" cy="2171.79" r="6.3" fill="#000"/>
<circle cx="246.04" cy="2163.76" r="6.3" fill="#000"/>
<circle cx="315.38" cy="2162.37" r="6.3" fill="#000"/>
<circle cx="384.72" cy="2163.76" r="6.3" fill="#000"/>
<circle cx="454.06" cy="2150.59" r="6.3" fill="#000"/>
<circle cx="523.4" cy="2180.04" r="6.3" fill="#000"/>
<circle cx="592.74" cy="2193.55" r="6.3" fill="#000"/>
<circle cx="662.08" cy="2157.52" r="6.3" fill="#000"/>
<circle cx="731.42" cy="2136.03" r="6.3" fill="#000"/>
<rect x="189.9" y="2072.1" width="126.3" height="413.3" fill="#000" fill-opacity="0.0"/>
<path d="M190.65 2081.75L199.55 2072.85M190.65 2092.16L209.96 2072.85M190.65 2102.56L220.36 2072.85M190.65 2112.97L230.77 2072.85M190.65 2123.38L241.18 2072.85M190.65 2133.79L251.59 2072.85M190.65 2144.19L261.99 2072.85M190.65 2154.6L272.4 2072.85M190.65 2165.01L282.81 2072.85M190.65 2175.41L293.21 2072.85M190.65 2185.82L303.62 2072.85M190.65 2196.23L314.03 2072.85M190.65 2206.63L315.45 2081.83M190.65 2217.04L315.45 2092.24M190.65 2227.45L315.45 2102.65M190.65 2237.86L315.45 2113.06M190.65 2248.26L315.45 2123.46M190.65 2258.67L315.45 2133.87M190.65 2269.08L315.45 2144.28M190.65 2279.48L315.45 2154.68M190.65 2289.89L315.45 2165.09M190.65 2300.3L315.45 2175.5M190.65 2310.71L315.45 2185.91M190.65 2321.11L315.45 2196.31M190.65 2331.52L315.45 2206.72M190.65 2341.93L315.45 2217.13M190.65 2352.33L315.45 2227.53M190.65 2362.74L315.45 2237.94M190.65 2373.15L315.45 2248.35M190.65 2383.55L315.45 2258.75M190.65 2393.96L315.45 2269.16M190.65 2404.37L315.45 2279.57M190.65 2414.78L315.45 2289.98M190.65 2425.18L315.45 2300.38M190.65 2435.59L315.45 2310.79M190.65 2446L315.45 2321.2M190.65 2456.4L315.45 2331.6M190.65 2466.81L315.45 2342.01M190.65 2477.22L315.45 2352.42M193.63 2484.65L315.45 2362.83M204.03 2484.65L315.45 2373.23M214.44 2484.65L315.45 2383.64M224.85 2484.65L315.45 2394.05M235.25 2484.65L315.45 2404.45M245.66 2484.65L315.45 2414.86M256.07 2484.65L315.45 2425.27M266.47 2484.65L315.45 2435.67M276.88 2484.65L315.45 2446.08M287.29 2484.65L315.45 2456.49M297.7 2484.65L315.45 2466.9M308.1 2484.65L315.45 2477.3" fill="none" stroke="#000" stroke-width="1.95" stroke-linecap="round"/>
<path d="M141.8 2069.05V2486" stroke="#000" stroke-width="2.3" fill="none"/>
<path d="M130.3 2486H767" stroke="#000" stroke-width="1.8" fill="none"/>
<path d="M130.3 2347.4H141.8M130.3 2208.8H141.8M130.3 2070.2H141.8" stroke="#000" stroke-width="2.3" fill="none"/>
<path d="M176.1 2486v12.0M245.44 2486v12.0M314.78 2486v12.0M384.12 2486v12.0M453.46 2486v12.0M522.8 2486v12.0M592.14 2486v12.0M661.48 2486v12.0M730.82 2486v12.0" stroke="#000" stroke-width="1.8" fill="none"/>
<text transform="translate(125.2 2496) scale(0.95 1)" text-anchor="end" font-size="30.3">0</text>
<text transform="translate(125.2 2357.4) scale(0.95 1)" text-anchor="end" font-size="30.3">2</text>
<text transform="translate(125.2 2218.8) scale(0.95 1)" text-anchor="end" font-size="30.3">4</text>
<text transform="translate(125.2 2080.2) scale(0.95 1)" text-anchor="end" font-size="30.3">6</text>
<text transform="translate(185.9 2522.7) rotate(-45)" text-anchor="end" font-size="28">-15</text>
<text transform="translate(255.24 2522.7) rotate(-45)" text-anchor="end" font-size="28">15</text>
<text transform="translate(324.58 2522.7) rotate(-45)" text-anchor="end" font-size="28">30</text>
<text transform="translate(393.92 2522.7) rotate(-45)" text-anchor="end" font-size="28">45</text>
<text transform="translate(463.26 2522.7) rotate(-45)" text-anchor="end" font-size="28">60</text>
<text transform="translate(532.6 2522.7) rotate(-45)" text-anchor="end" font-size="28">75</text>
<text transform="translate(601.94 2522.7) rotate(-45)" text-anchor="end" font-size="28">90</text>
<text transform="translate(671.28 2522.7) rotate(-45)" text-anchor="end" font-size="28">105</text>
<text transform="translate(740.62 2522.7) rotate(-45)" text-anchor="end" font-size="28">120</text>
</g>
<g id="panel-h">
<text x="899.5" y="2022.3" font-size="34.5">(h)</text>
<rect x="1073" y="2072.4" width="126.9" height="413" fill="#dadada"/>
<text x="1058" y="2151" text-anchor="middle" font-size="43" font-weight="bold">**</text>
<text x="1129.9" y="2151" text-anchor="middle" font-size="43" font-weight="bold">*</text>
<text x="1477" y="2161.4" text-anchor="middle" font-size="43" font-weight="bold">**</text>
<clipPath id="in-h"><rect x="1073" y="2072.4" width="126.9" height="413"/></clipPath>
<clipPath id="out-h"><path clip-rule="evenodd" d="M0 0H1680V2666H0ZM1073 2072.4H1199.9V2485.4H1073Z"/></clipPath>
<g clip-path="url(#out-h)">
<polyline points="1059.8,2168.61 1129.12,2170.27 1198.44,2197.5 1267.76,2209.49 1337.08,2211.92 1406.4,2211.23 1475.72,2178.52 1545.04,2202.29 1614.36,2214.83" fill="none" stroke="#000" stroke-width="1.9" stroke-linejoin="round"/>
<polyline points="1059.8,2225.43 1129.12,2218.09 1198.44,2181.08 1267.76,2200.69 1337.08,2222.66 1406.4,2221.27 1475.72,2245.32 1545.04,2214.83 1614.36,2185.93" fill="none" stroke="#000" stroke-width="2.0" stroke-dasharray="5.8 4.2 2.4 4.2" stroke-dashoffset="-4"/>
</g>
<g clip-path="url(#in-h)">
<polyline points="1059.8,2168.61 1129.12,2170.27 1198.44,2197.5 1267.76,2209.49 1337.08,2211.92 1406.4,2211.23 1475.72,2178.52 1545.04,2202.29 1614.36,2214.83" fill="none" stroke="#000" stroke-width="1.2" stroke-linejoin="round"/>
<polyline points="1059.8,2225.43 1129.12,2218.09 1198.44,2181.08 1267.76,2200.69 1337.08,2222.66 1406.4,2221.27 1475.72,2245.32 1545.04,2214.83 1614.36,2185.93" fill="none" stroke="#000" stroke-width="1.2" stroke-dasharray="5.8 4.2 2.4 4.2" stroke-dashoffset="-4"/>
</g>
<path d="M1051.4 2168.61L1059.8 2160.21L1068.2 2168.61L1059.8 2177.01ZM1120.72 2170.27L1129.12 2161.87L1137.52 2170.27L1129.12 2178.67ZM1190.04 2197.5L1198.44 2189.1L1206.84 2197.5L1198.44 2205.9ZM1259.36 2209.49L1267.76 2201.09L1276.16 2209.49L1267.76 2217.89ZM1328.68 2211.92L1337.08 2203.52L1345.48 2211.92L1337.08 2220.32ZM1398 2211.23L1406.4 2202.83L1414.8 2211.23L1406.4 2219.63ZM1467.32 2178.52L1475.72 2170.12L1484.12 2178.52L1475.72 2186.92ZM1536.64 2202.29L1545.04 2193.89L1553.44 2202.29L1545.04 2210.69ZM1605.96 2214.83L1614.36 2206.43L1622.76 2214.83L1614.36 2223.23Z" fill="none" stroke="#000" stroke-width="2" stroke-linejoin="miter"/>
<path d="M1059.8 2155.09V2182.12M1055.8 2155.09H1063.8M1055.8 2182.12H1063.8M1129.12 2156.76V2183.78M1125.12 2156.76H1133.12M1125.12 2183.78H1133.12M1198.44 2183.99V2211.02M1194.44 2183.99H1202.44M1194.44 2211.02H1202.44M1267.76 2195.98V2223.01M1263.76 2195.98H1271.76M1263.76 2223.01H1271.76M1337.08 2198.4V2225.43M1333.08 2198.4H1341.08M1333.08 2225.43H1341.08M1406.4 2197.71V2224.74M1402.4 2197.71H1410.4M1402.4 2224.74H1410.4M1475.72 2165V2192.03M1471.72 2165H1479.72M1471.72 2192.03H1479.72M1545.04 2188.77V2215.8M1541.04 2188.77H1549.04M1541.04 2215.8H1549.04M1614.36 2201.32V2228.34M1610.36 2201.32H1618.36M1610.36 2228.34H1618.36" fill="none" stroke="#000" stroke-width="1.9"/>
<path d="M1059.8 2211.92V2238.95M1055.8 2211.92H1063.8M1055.8 2238.95H1063.8M1129.12 2204.57V2231.6M1125.12 2204.57H1133.12M1125.12 2231.6H1133.12M1198.44 2167.57V2194.59M1194.44 2167.57H1202.44M1194.44 2194.59H1202.44M1267.76 2187.18V2214.21M1263.76 2187.18H1271.76M1263.76 2214.21H1271.76M1337.08 2209.15V2236.17M1333.08 2209.15H1341.08M1333.08 2236.17H1341.08M1406.4 2207.76V2234.79M1402.4 2207.76H1410.4M1402.4 2234.79H1410.4M1475.72 2231.81V2258.83M1471.72 2231.81H1479.72M1471.72 2258.83H1479.72M1545.04 2201.32V2228.34M1541.04 2201.32H1549.04M1541.04 2228.34H1549.04M1614.36 2172.42V2199.44M1610.36 2172.42H1618.36M1610.36 2199.44H1618.36" fill="none" stroke="#000" stroke-width="1.9"/>
<circle cx="1059.8" cy="2225.43" r="6.3" fill="#000"/>
<circle cx="1129.12" cy="2218.09" r="6.3" fill="#000"/>
<circle cx="1198.44" cy="2181.08" r="6.3" fill="#000"/>
<circle cx="1267.76" cy="2200.69" r="6.3" fill="#000"/>
<circle cx="1337.08" cy="2222.66" r="6.3" fill="#000"/>
<circle cx="1406.4" cy="2221.27" r="6.3" fill="#000"/>
<circle cx="1475.72" cy="2245.32" r="6.3" fill="#000"/>
<circle cx="1545.04" cy="2214.83" r="6.3" fill="#000"/>
<circle cx="1614.36" cy="2185.93" r="6.3" fill="#000"/>
<rect x="1073" y="2072.4" width="126.9" height="413" fill="#000" fill-opacity="0.0"/>
<path d="M1073.75 2081.25L1081.85 2073.15M1073.75 2091.66L1092.26 2073.15M1073.75 2102.06L1102.66 2073.15M1073.75 2112.47L1113.07 2073.15M1073.75 2122.88L1123.48 2073.15M1073.75 2133.29L1133.89 2073.15M1073.75 2143.69L1144.29 2073.15M1073.75 2154.1L1154.7 2073.15M1073.75 2164.51L1165.11 2073.15M1073.75 2174.91L1175.51 2073.15M1073.75 2185.32L1185.92 2073.15M1073.75 2195.73L1196.33 2073.15M1073.75 2206.13L1199.15 2080.73M1073.75 2216.54L1199.15 2091.14M1073.75 2226.95L1199.15 2101.55M1073.75 2237.36L1199.15 2111.96M1073.75 2247.76L1199.15 2122.36M1073.75 2258.17L1199.15 2132.77M1073.75 2268.58L1199.15 2143.18M1073.75 2278.98L1199.15 2153.58M1073.75 2289.39L1199.15 2163.99M1073.75 2299.8L1199.15 2174.4M1073.75 2310.21L1199.15 2184.81M1073.75 2320.61L1199.15 2195.21M1073.75 2331.02L1199.15 2205.62M1073.75 2341.43L1199.15 2216.03M1073.75 2351.83L1199.15 2226.43M1073.75 2362.24L1199.15 2236.84M1073.75 2372.65L1199.15 2247.25M1073.75 2383.05L1199.15 2257.65M1073.75 2393.46L1199.15 2268.06M1073.75 2403.87L1199.15 2278.47M1073.75 2414.28L1199.15 2288.88M1073.75 2424.68L1199.15 2299.28M1073.75 2435.09L1199.15 2309.69M1073.75 2445.5L1199.15 2320.1M1073.75 2455.9L1199.15 2330.5M1073.75 2466.31L1199.15 2340.91M1073.75 2476.72L1199.15 2351.32M1076.23 2484.65L1199.15 2361.73M1086.63 2484.65L1199.15 2372.13M1097.04 2484.65L1199.15 2382.54M1107.45 2484.65L1199.15 2392.95M1117.85 2484.65L1199.15 2403.35M1128.26 2484.65L1199.15 2413.76M1138.67 2484.65L1199.15 2424.17M1149.07 2484.65L1199.15 2434.57M1159.48 2484.65L1199.15 2444.98M1169.89 2484.65L1199.15 2455.39M1180.3 2484.65L1199.15 2465.8M1190.7 2484.65L1199.15 2476.2" fill="none" stroke="#000" stroke-width="1.95" stroke-linecap="round"/>
<path d="M1025.6 2069.4V2486" stroke="#000" stroke-width="1.6" fill="none"/>
<path d="M1014.1 2486H1650" stroke="#000" stroke-width="1.6" fill="none"/>
<path d="M1014.1 2347.4H1025.6M1014.1 2208.8H1025.6M1014.1 2070.2H1025.6" stroke="#000" stroke-width="1.6" fill="none"/>
<path d="M1059.2 2486v12.0M1128.52 2486v12.0M1197.84 2486v12.0M1267.16 2486v12.0M1336.48 2486v12.0M1405.8 2486v12.0M1475.12 2486v12.0M1544.44 2486v12.0M1613.76 2486v12.0" stroke="#000" stroke-width="1.6" fill="none"/>
<text transform="translate(1009 2496) scale(0.95 1)" text-anchor="end" font-size="30.3">0</text>
<text transform="translate(1009 2357.4) scale(0.95 1)" text-anchor="end" font-size="30.3">2</text>
<text transform="translate(1009 2218.8) scale(0.95 1)" text-anchor="end" font-size="30.3">4</text>
<text transform="translate(1009 2080.2) scale(0.95 1)" text-anchor="end" font-size="30.3">6</text>
<text transform="translate(1069.84 2521.86) rotate(-45)" text-anchor="end" font-size="28" letter-spacing="1.2">-15</text>
<text transform="translate(1139.16 2521.86) rotate(-45)" text-anchor="end" font-size="28" letter-spacing="1.2">15</text>
<text transform="translate(1208.48 2521.86) rotate(-45)" text-anchor="end" font-size="28" letter-spacing="1.2">30</text>
<text transform="translate(1277.8 2521.86) rotate(-45)" text-anchor="end" font-size="28" letter-spacing="1.2">45</text>
<text transform="translate(1347.12 2521.86) rotate(-45)" text-anchor="end" font-size="28" letter-spacing="1.2">60</text>
<text transform="translate(1416.44 2521.86) rotate(-45)" text-anchor="end" font-size="28" letter-spacing="1.2">75</text>
<text transform="translate(1485.76 2521.86) rotate(-45)" text-anchor="end" font-size="28" letter-spacing="1.2">90</text>
<text transform="translate(1555.08 2521.86) rotate(-45)" text-anchor="end" font-size="28" letter-spacing="1.2">105</text>
<text transform="translate(1624.4 2521.86) rotate(-45)" text-anchor="end" font-size="28" letter-spacing="1.2">120</text>
</g>
<g id="legend">
<line x1="576" y1="567.9" x2="620.2" y2="567.9" stroke="#000" stroke-width="2.2" stroke-dasharray="5.8 4.2 2.4 4.2" stroke-dashoffset="0"/>
<circle cx="598" cy="567.9" r="7" fill="#000"/>
<line x1="576" y1="607.5" x2="620.2" y2="607.5" stroke="#000" stroke-width="2"/>
<path d="M589.6 607.5L598 599.1L606.4 607.5L598 615.9Z" fill="none" stroke="#000" stroke-width="2"/>
<text x="645.6" y="579.2" font-size="34" font-style="italic">evening</text>
<text x="645.6" y="618.8" font-size="34" font-style="italic">morning</text>
</g>
<text x="454" y="2643.1" text-anchor="middle" font-size="34.6">time (min) after meal initiation</text>
<text x="1337.4" y="2646.4" text-anchor="middle" font-size="34.6">time (min) after meal initiation</text>
</svg></body></html>
